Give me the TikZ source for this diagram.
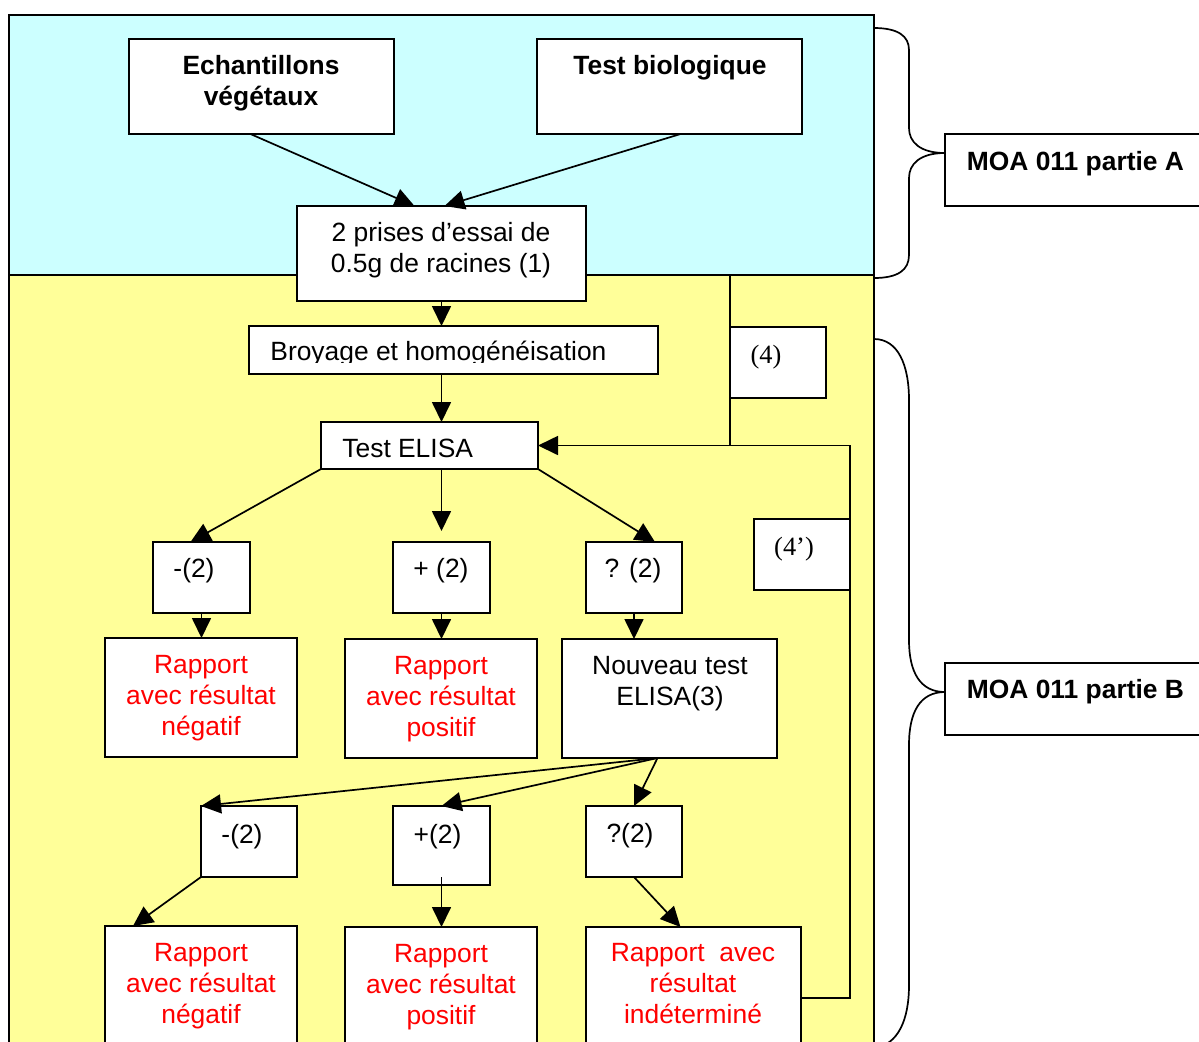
\documentclass[tikz,border=0pt]{standalone}
\usepackage{fontspec}
\setmainfont{Liberation Sans}
\newfontfamily\seriffont{Liberation Serif}
\usetikzlibrary{arrows.meta,calc}
\definecolor{topblue}{HTML}{CCFFFF}
\definecolor{botyellow}{HTML}{FFFF99}
\definecolor{redtxt}{HTML}{FF0000}
\begin{document}
\begin{tikzpicture}[x=0.5pt,y=-0.5pt,
  box/.style={draw, line width=1pt, fill=white, inner sep=0pt, outer sep=0pt},
  sz/.style 2 args={minimum width={#1*0.5pt}, minimum height={#2*0.5pt}},
  txt/.style={font=\fontsize{13.2}{15.5}\selectfont, align=center, inner sep=0pt},
  bold/.style={txt, font=\fontsize{13.2}{15.5}\selectfont\bfseries},
  rtxt/.style={txt, text=redtxt},
  stxt/.style={txt, font=\fontsize{13.2}{15.5}\selectfont\seriffont},
  arr/.style={line width=0.85pt, -{Triangle[length=10pt,width=9.5pt]}},
  ln/.style={line width=0.85pt},
  brace/.style={line width=0.85pt}]
\useasboundingbox (0,0) rectangle (1199,1041);
% background regions
\fill[topblue] (9,15) rectangle (874,275);
\fill[botyellow] (9,275) rectangle (874,1060);
\draw[line width=1pt] (9,1060) -- (9,15) -- (874,15) -- (874,1060);
\draw[line width=1pt] (9,275) -- (874,275);
% braces
\draw[brace] (874,28) .. controls (898,28) and (909,36) .. (909,50) -- (909,128)
  .. controls (909,142) and (920,153) .. (945,153)
  .. controls (920,153) and (909,164) .. (909,178) -- (909,255)
  .. controls (909,270) and (898,278) .. (874,278);
\draw[brace] (874,339) .. controls (898,339) and (909,365) .. (909,400) -- (909,640)
  .. controls (909,672) and (920,692) .. (945,692)
  .. controls (920,692) and (909,712) .. (909,745) -- (909,985)
  .. controls (909,1020) and (898,1045) .. (874,1048);
% boxes
\node[box, sz={265}{95}] (ech) at (261.5,86.5) {};
\node[box, sz={265}{95}] (bio) at (669.5,86.5) {};
\node[box, sz={289}{95}] (prises) at (441.5,253.5) {};
\node[box, sz={409}{48}] (broy) at (453.5,350) {};
\node[box, sz={217}{47}] (elisa) at (429.5,445.5) {};
\node[box, sz={96}{71}] (four) at (778,362.5) {};
\node[box, sz={96}{71}] (fourp) at (802,554.5) {};
\node[box, sz={97}{71}] (m1) at (201.5,577.5) {};
\node[box, sz={97}{71}] (p1) at (441.5,577.5) {};
\node[box, sz={96}{71}] (q1) at (634,577.5) {};
\node[box, sz={192}{119}] (rn1) at (201,697.5) {};
\node[box, sz={192}{119}] (rp1) at (441,698.5) {};
\node[box, sz={215}{119}] (nt) at (669.5,698.5) {};
\node[box, sz={96}{71}] (m2) at (249,841.5) {};
\node[box, sz={97}{79}] (p2) at (441.5,845.5) {};
\node[box, sz={96}{71}] (q2) at (634,841.5) {};
\node[box, sz={192}{119}] (rn2) at (201,985.5) {};
\node[box, sz={192}{119}] (rp2) at (441,986.5) {};
\node[box, sz={215}{119}] (ri) at (693.5,986.5) {};
\node[box, sz={265}{72}] (moaA) at (1077.5,170) {};
\node[box, sz={265}{72}] (moaB) at (1077.5,699) {};
% connectors
\draw[arr] ($(ech.south)+(-11,0)$) -- ($(prises.north)+(-27,0)$);
\draw[arr] ($(bio.south)+(11,0)$) -- ($(prises.north)+(3,0)$);
\draw[arr] (prises.south) -- (prises.south |- broy.north);
\draw[arr] (broy.south -| prises.south) -- (elisa.north -| prises.south);
\coordinate (c4) at (730,275);
\draw[ln] (c4) -- (c4 |- elisa.east);
\coordinate (c4p) at (850,998);
\draw[arr] (c4p -| ri.east) -- (c4p) -- (c4p |- elisa.east) -- (elisa.east);
\draw[arr] (elisa.south west) -- ($(m1.north)+(-11,0)$);
\draw[arr] (elisa.south -| p1.north) -- ($(p1.north)+(0,-11)$);
\draw[arr] (elisa.south east) -- ($(q1.north)+(21,0)$);
\draw[arr] (m1.south) -- (m1.south |- rn1.north);
\draw[arr] (p1.south) -- (p1.south |- rp1.north);
\draw[arr] (q1.south) -- (q1.south |- nt.north);
\coordinate (ntb) at ($(nt.south)+(-12,0)$);
\draw[arr] (ntb) -- (m2.north west);
\draw[arr] (ntb) -- (p2.north);
\draw[arr] (ntb) -- (q2.north);
\draw[arr] (m2.south west) -- ($(rn2.north)+(-68,0)$);
\draw[arr] ($(p2.south)+(0,-8)$) -- (p2.south |- rp2.north);
\draw[arr] (q2.south) -- ($(ri.north)+(-13,0)$);
% texts
\node[bold] (echT) at (261,83) {Echantillons\\végétaux};
\node[bold, anchor=base] (bioT) at (670,74) {Test biologique};
\node[txt] (prisesT) at (441,250) {2 prises d’essai de\\0.5g de racines (1)};
\begin{scope}
\clip (249,326) rectangle (658,362);
\node[txt, anchor=base west] (broyT) at (270,360) {Broyage et homogénéisation};
\end{scope}
\node[txt, anchor=base west] (elisaT) at (342,457) {Test ELISA};
\node[stxt, anchor=base] (fourT) at (766,363) {(4)};
\node[stxt, anchor=base] (fourpT) at (794,555) {(4’)};
\node[txt, anchor=base] (m1T) at (194,577) {-(2)};
\node[txt, anchor=base] (p1T) at (441,577) {+ (2)};
\node[txt, anchor=base] (q1T) at (633,577) {? (2)};
\node[rtxt] (rn1T) at (201,698) {Rapport\\avec résultat\\négatif};
\node[rtxt] (rp1T) at (441,699) {Rapport\\avec résultat\\positif};
\node[txt] (ntT) at (670,684) {Nouveau test\\ELISA(3)};
\node[txt, anchor=base] (m2T) at (242,843) {-(2)};
\node[txt, anchor=base] (p2T) at (437.5,843) {+(2)};
\node[txt, anchor=base] (q2T) at (630,842) {?(2)};
\node[rtxt] (rn2T) at (201,986.5) {Rapport\\avec résultat\\négatif};
\node[rtxt] (rp2T) at (441,987.5) {Rapport\\avec résultat\\positif};
\node[rtxt] (riT) at (693,984) {Rapport~~avec\\résultat\\indéterminé};
\node[bold, anchor=base west] (moaAT) at (966.5,170) {MOA 011 partie A};
\node[bold, anchor=base west] (moaBT) at (966.5,698) {MOA 011 partie B};
\end{tikzpicture}
\end{document}
